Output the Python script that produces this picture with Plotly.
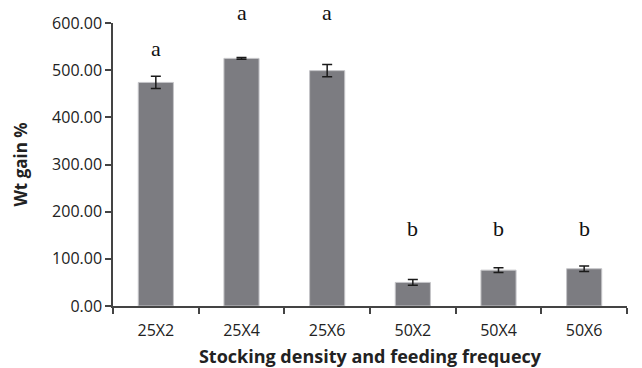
import plotly.graph_objects as go

categories = ["25X2", "25X4", "25X6", "50X2", "50X4", "50X6"]
values = [474, 525, 499, 50, 76, 79]
errors = [13, 2, 13, 6, 5, 6]
letters = ["a", "a", "a", "b", "b", "b"]
letter_y = [546, 600, 600, 165, 165, 165]
letter_shift = [0, 11, 11, 0, 0, 0]  # extra pixel lift for letters above the axis top
y_ticks = [0, 100, 200, 300, 400, 500, 600]

fig = go.Figure()
fig.add_trace(go.Bar(
    x=categories, y=values,
    marker=dict(color="#7c7c81", line=dict(color="#c4c4c7", width=1)),
    error_y=dict(type="data", array=errors, visible=True, color="#1a1a1a", thickness=1.5, width=5),
    width=0.41,
))

for c, l, ly, s in zip(categories, letters, letter_y, letter_shift):
    fig.add_annotation(x=c, y=ly, text=l, showarrow=False, xref="x", yref="y",
                       yanchor="middle", yshift=s,
                       font=dict(family="Liberation Serif", size=22, color="#111"))

fig.update_layout(
    width=642, height=368,
    margin=dict(l=113, r=15, t=23, b=62, autoexpand=False),
    plot_bgcolor="white", paper_bgcolor="white",
    showlegend=False,
    font=dict(family="Open Sans", size=16, color="#222"),
    xaxis=dict(
        automargin=False,
        showline=True, linecolor="#444", linewidth=1.5,
        ticks="outside", tickson="boundaries", ticklen=6, tickcolor="#444", tickwidth=1.5,
        ticklabelstandoff=9,
        title=dict(text="<b>Stocking density and feeding frequecy</b>", font=dict(size=18), standoff=14),
        tickfont=dict(size=16),
    ),
    yaxis=dict(
        automargin=False,
        range=[0, 600], tickvals=y_ticks, ticktext=[f"{v:.2f}" for v in y_ticks],
        showline=True, linecolor="#444", linewidth=1.5,
        ticks="outside", ticklen=6, tickcolor="#444", tickwidth=1.5,
        showgrid=False, zeroline=False,
        title=dict(text="<b>Wt gain %</b>", font=dict(size=17), standoff=20),
        tickfont=dict(size=16),
    ),
)

fig.write_html("out.html")
